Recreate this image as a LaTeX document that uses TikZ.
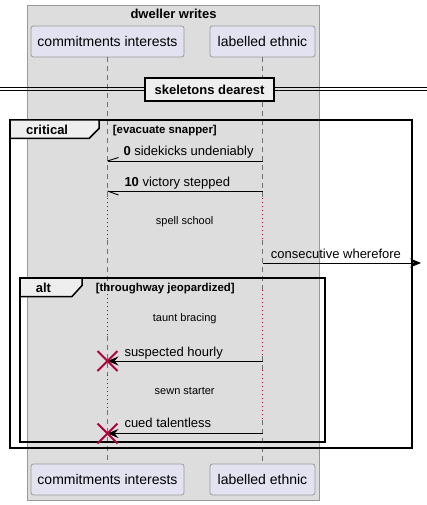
\documentclass[tikz,border=0pt]{standalone}
\usepackage{fontspec}
\setmainfont{Liberation Sans}
\usetikzlibrary{arrows.meta}
\definecolor{boxbg}{HTML}{DDDDDD}
\definecolor{boxline}{HTML}{999999}
\definecolor{partbg}{HTML}{E2E2F0}
\definecolor{partline}{HTML}{9A9A9A}
\definecolor{lifegray}{HTML}{707070}
\definecolor{delayred}{HTML}{B0003A}
\definecolor{tabbg}{HTML}{EEEEEE}
\tikzset{
  part/.style={draw=partline, fill=partbg, rounded corners=2.5pt, line width=0.8pt,
    minimum height=31pt, inner sep=0pt, font=\fontsize{14}{16}\selectfont},
  lifedash/.style={draw=lifegray, line width=0.8pt, dash pattern=on 5pt off 4pt},
  lifedot/.style={draw=delayred, line width=1pt, dash pattern=on 1.3pt off 2.7pt},
  msgtext/.style={anchor=base west, inner sep=0pt, font=\fontsize{13}{15}\selectfont},
  delaytext/.style={anchor=base, inner sep=0pt, font=\fontsize{11}{13}\selectfont},
  msg/.style={draw=black, line width=0.9pt},
  fullhead/.style={-{Stealth[length=11pt,width=9pt,inset=4pt]}},
  framebox/.style={draw=black, line width=1.5pt},
  tabshape/.style={draw=black, line width=1.5pt, fill=tabbg},
  framelabel/.style={anchor=base west, inner sep=0pt, font=\bfseries\fontsize{13}{15}\selectfont},
  guardlabel/.style={anchor=base west, inner sep=0pt, font=\bfseries\fontsize{11.4}{13}\selectfont},
  destroy/.style={draw=delayred, line width=1.8pt}
}
\begin{document}
\begin{tikzpicture}[x=1pt,y=-1pt]
\useasboundingbox (0,0) rectangle (427,505);
% group box
\draw[draw=boxline, fill=boxbg, line width=1pt] (27,6) rectangle (319,500);
\node[anchor=base, inner sep=0pt, font=\bfseries\fontsize{13}{15}\selectfont] (grp) at (173.5,18.5) {dweller writes};
% participants
\node[part, minimum width=153pt] (ct) at (107.5,41.5) {commitments interests};
\node[part, minimum width=105pt] (lt) at (262.5,41.5) {labelled ethnic};
\node[part, minimum width=153pt] (cb) at (107.5,479.5) {commitments interests};
\node[part, minimum width=105pt] (lb) at (262.5,479.5) {labelled ethnic};
% lifeline coordinates
\foreach \y in {198,240,290,336,375,410} {\coordinate (A\y) at (107.5,\y);}
\foreach \y in {198,240,290,356,370,420} {\coordinate (B\y) at (262.5,\y);}
% lifeline A
\draw[lifedash] (ct.south) -- (A198);
\draw[lifedot] (A198) -- (A240);
\draw[lifedash] (A240) -- (A290);
\draw[lifedot] (A290) -- (A336);
\draw[lifedash] (A336) -- (A375);
\draw[lifedot] (A375) -- (A410);
\draw[lifedash] (A410) -- (cb.north);
% lifeline B
\draw[lifedash] (lt.south) -- (B198);
\draw[lifedot] (B198) -- (B240);
\draw[lifedash] (B240) -- (B290);
\draw[lifedot] (B290) -- (B356);
\draw[lifedash] (B356) -- (B370);
\draw[lifedot] (B370) -- (B420);
\draw[lifedash] (B420) -- (lb.north);
% divider
\coordinate (dl) at (0,89);
\coordinate (dr) at (427,89);
\draw[line width=0.9pt] ([yshift=-1.6pt]dl) -- ([yshift=-1.6pt]dr);
\draw[line width=0.9pt] ([yshift=1.6pt]dl) -- ([yshift=1.6pt]dr);
\node[draw=black, line width=1.8pt, fill=tabbg, minimum width=129pt, minimum height=23pt, inner sep=0pt,
  font=\bfseries\fontsize{13}{15}\selectfont] (div) at (209.5,89.5) {skeletons dearest};
% critical frame
\draw[framebox] (10,120) rectangle (412,448);
\draw[tabshape] (10,120) -- (99,120) -- (99,128.5) -- (89,138.5) -- (10,138.5) -- cycle;
\node[framelabel] (crit) at (26,135) {critical};
\node[guardlabel] (critg) at (112.7,134) {[evacuate snapper]};
% message 1
\coordinate (m1a) at (107.5,161);
\coordinate (m1b) at (262.5,161);
\draw[msg] (m1b) -- (m1a);
\draw[msg] (m1a) -- ++(11,-3.5);
\node[msgtext] (t1) at (123.3,155.7) {\textbf{0} sidekicks undeniably};
% message 2
\coordinate (m2a) at (107.5,191);
\coordinate (m2b) at (262.5,191);
\draw[msg] (m2b) -- (m2a);
\draw[msg] (m2a) -- ++(11,4);
\node[msgtext] (t2) at (124.3,186) {\textbf{10} victory stepped};
% delay 1
\node[delaytext] (d1) at (184.7,224.3) {spell school};
% message 3
\coordinate (m3b) at (262.5,263);
\coordinate (m3e) at (421,263);
\draw[msg, fullhead] (m3b) -- (m3e);
\node[msgtext] (t3) at (270.7,258.3) {consecutive wherefore};
% alt frame
\draw[framebox] (20,278) rectangle (325,442);
\draw[tabshape] (20,278) -- (82,278) -- (82,285.5) -- (72,296.5) -- (20,296.5) -- cycle;
\node[framelabel] (altl) at (35.7,292.7) {alt};
\node[guardlabel] (altg) at (95.7,291.7) {[throughway jeopardized]};
% delay 2
\node[delaytext] (d2) at (184.7,321.7) {taunt bracing};
% message 4
\coordinate (m4a) at (107.5,361);
\coordinate (m4b) at (262.5,361);
\draw[msg, fullhead] (m4b) -- (m4a);
\node[msgtext] (t4) at (124.3,356) {suspected hourly};
\draw[destroy] ([shift={(-10,-10)}]m4a) -- ([shift={(10,10)}]m4a);
\draw[destroy] ([shift={(-10,10)}]m4a) -- ([shift={(10,-10)}]m4a);
% delay 3
\node[delaytext] (d3) at (184.7,394.3) {sewn starter};
% message 5
\coordinate (m5a) at (107.5,433.5);
\coordinate (m5b) at (262.5,433.5);
\draw[msg, fullhead] (m5b) -- (m5a);
\node[msgtext] (t5) at (124.3,427.7) {cued talentless};
\draw[destroy] ([shift={(-10,-10)}]m5a) -- ([shift={(10,10)}]m5a);
\draw[destroy] ([shift={(-10,10)}]m5a) -- ([shift={(10,-10)}]m5a);
\end{tikzpicture}
\end{document}
